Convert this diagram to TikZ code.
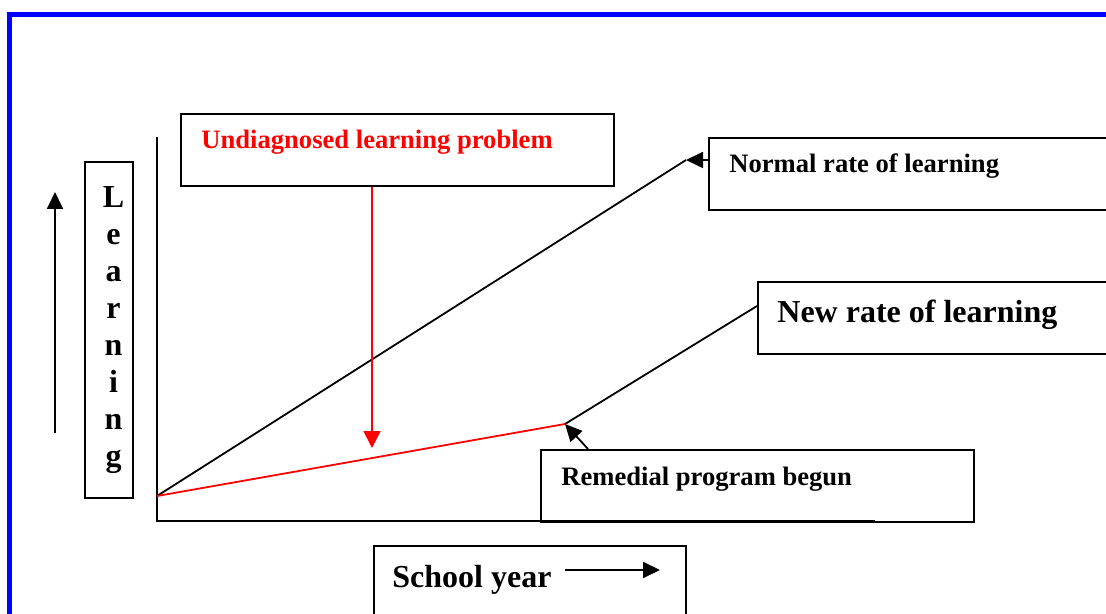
\documentclass[tikz,border=0pt]{standalone}
\usepackage{fontspec}
\setmainfont{Liberation Serif}
\usetikzlibrary{arrows.meta}

\begin{document}
\begin{tikzpicture}
[x=0.5pt,y=-0.5pt,
box/.style={draw,line width=1pt,anchor=north west,inner sep=0pt},
lbl/.style={anchor=base west,inner sep=0pt,font=\bfseries\fontsize{13.3}{16}\selectfont},
big/.style={font=\bfseries\fontsize{16}{18.5}\selectfont},
tip/.style={-{Triangle[length=8.5pt,width=8pt]}}]
\useasboundingbox (0,0) rectangle (1106,614);
\clip (0,0) rectangle (1106,614);
\draw[blue,line width=2.5pt] (9.5,14.5) rectangle (1130,640);
% boxes
\node[box,minimum width=216.5pt,minimum height=36pt] (undiag) at (180,113) {};
\node[box,minimum width=211pt,minimum height=36pt] (normal) at (708,137) {};
\node[box,minimum width=186.5pt,minimum height=36pt] (new) at (757,281) {};
\node[box,minimum width=216.5pt,minimum height=36pt] (remedial) at (540,449) {};
\node[box,minimum width=156pt,minimum height=48pt] (school) at (373,545) {};
\node[box,minimum width=24pt,minimum height=168pt] (learning) at (84,161) {};
% labels
\node[big,align=center,inner sep=0pt] (learningtxt) at ([shift={(4.5,0)}]learning.center)
  {L\\e\\a\\r\\n\\i\\n\\g};
\node[lbl,red] (undiagtxt) at ([shift={(21,36)}]undiag.north west) {Undiagnosed learning problem};
\node[lbl] (normaltxt) at ([shift={(21,36)}]normal.north west) {Normal rate of learning};
\node[lbl,big] (newtxt) at ([shift={(20,41)}]new.north west) {New rate of learning};
\node[lbl] (remedialtxt) at ([shift={(21,36)}]remedial.north west) {Remedial program begun};
\node[lbl,big] (schooltxt) at ([shift={(19,42)}]school.north west) {School year};
% points
\coordinate (ytop) at (157,137);
\coordinate (corner) at (157,521);
\coordinate (xend) at (875,521);
\coordinate (o) at (157,496);
\coordinate (normalend) at (686,160);
\coordinate (bend) at (565,424);
\coordinate (newend) at (757,306);
\coordinate (remstart) at (588,449);
\coordinate (redtip) at (372,448);
\coordinate (upfrom) at (55,433);
\coordinate (upto) at (55,192);
\coordinate (rightfrom) at (565,570);
\coordinate (rightto) at (660,570);
% axes and rates
\draw[line width=1pt] (ytop) -- (corner) -- (xend);
\draw[line width=0.9pt] (o) -- (normalend);
\draw[red,line width=0.9pt] (o) -- (bend);
\draw[line width=0.9pt] (bend) -- (newend);
% arrows
\foreach \from/\to in {normal.west|-normalend/normalend,remstart/bend,upfrom/upto,rightfrom/rightto}
\draw[tip,line width=0.9pt] (\from) -- (\to);
\draw[red,line width=0.9pt,-{Triangle[length=8.5pt,width=8.5pt]}] (undiag.south-|redtip) -- (redtip);
\end{tikzpicture}
\end{document}
